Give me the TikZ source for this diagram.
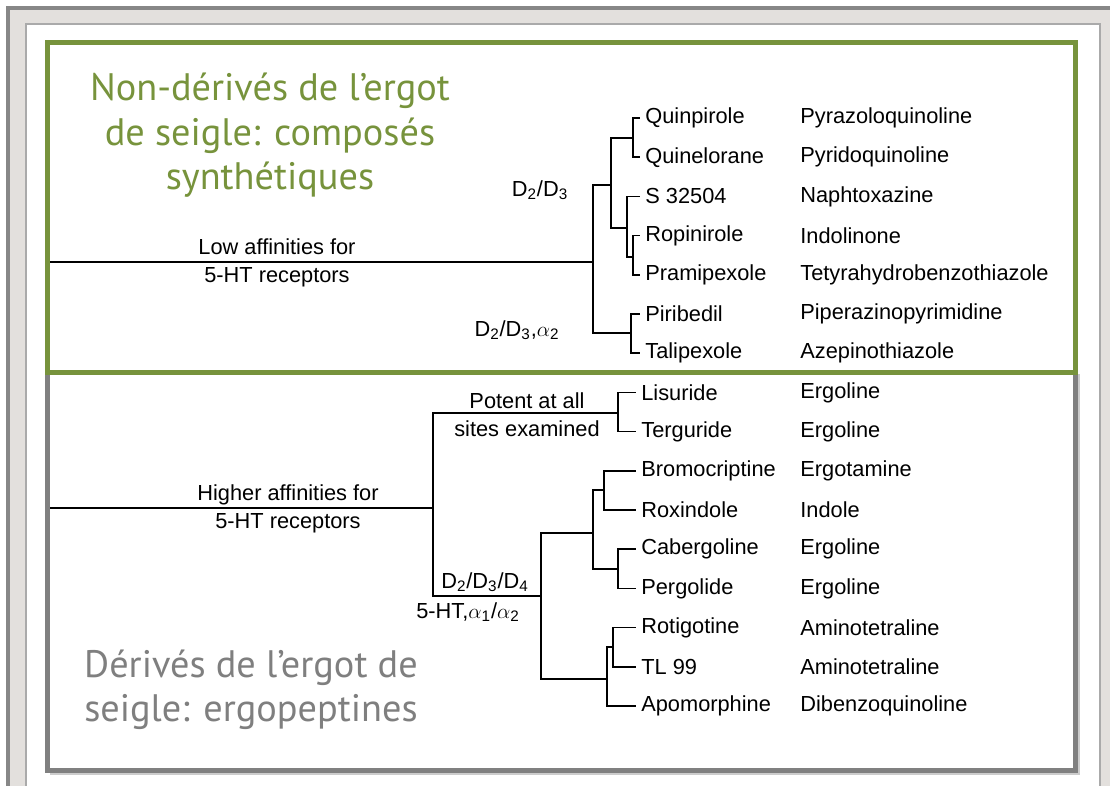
\documentclass[tikz,border=0pt]{standalone}
\usepackage{fontspec}
\setmainfont{Liberation Sans}
\newfontfamily\titlefont{PT Sans}
\usepackage{tikz}
\usetikzlibrary{positioning,calc}
\definecolor{ergotgreen}{RGB}{119,147,60}
\definecolor{boxgray}{RGB}{128,128,128}
\definecolor{titlegray}{RGB}{127,127,127}
\definecolor{framefill}{RGB}{227,224,221}
\definecolor{frameline}{RGB}{135,135,135}
\definecolor{panelline}{RGB}{170,170,170}

\begin{document}
\begin{tikzpicture}[
  x=0.02cm,y=-0.02cm,
  drug/.style={anchor=west,inner xsep=0.1cm,inner ysep=0pt,font=\fontsize{12.4}{15}\selectfont},
  family/.style={anchor=west,inner sep=0pt,font=\fontsize{12.4}{15}\selectfont},
  branch/.style={align=center,inner sep=0pt,font=\fontsize{12.4}{16}\selectfont},
  tree/.style={line width=1pt},
  title/.style={align=center,anchor=base,inner sep=0pt,font=\titlefont\fontsize{21.8}{25.6}\selectfont},
  frame/.style={line width=0.1cm}
]
\useasboundingbox (0,0) rectangle (1110,786);
% slide background
\fill[white] (0,0) rectangle (1110,786);
\fill[framefill] (8,8) rectangle (1110,786);
\draw[frameline,line width=2pt] (8,786) -- (8,8) -- (1110,8);
\fill[white] (26,24) rectangle (1100,786);
\draw[panelline,line width=1.5pt] (26,786) -- (26,24) -- (1100,24) -- (1100,786);

% drugs
\node[drug] (quinpirole) at (640,118.0) {Quinpirole};
\node[drug] (quinelorane) at (640,157.2) {Quinelorane};
\node[drug] (s32504) at (640,196.4) {S 32504};
\node[drug] (ropinirole) at (640,235.6) {Ropinirole};
\node[drug] (pramipexole) at (640,274.8) {Pramipexole};
\node[drug] (piribedil) at (640,314.0) {Piribedil};
\node[drug] (talipexole) at (640,353.2) {Talipexole};
\node[drug] (lisuride) at (636,392.4) {Lisuride};
\node[drug] (terguride) at (636,431.6) {Terguride};
\node[drug] (bromocriptine) at (636,470.8) {Bromocriptine};
\node[drug] (roxindole) at (636,510.0) {Roxindole};
\node[drug] (cabergoline) at (636,549.2) {Cabergoline};
\node[drug] (pergolide) at (636,588.4) {Pergolide};
\node[drug] (rotigotine) at (636,627.6) {Rotigotine};
\node[drug] (tl99) at (636,666.8) {TL 99};
\node[drug] (apomorphine) at (636,706.0) {Apomorphine};

% chemical families
\node[family] (quinpiroleF) at (800,118.0) {Pyrazoloquinoline};
\node[family] (quineloraneF) at (800,157.2) {Pyridoquinoline};
\node[family] (s32504F) at (800,196.4) {Naphtoxazine};
\node[family] (ropiniroleF) at (800,235.6) {Indolinone};
\node[family] (pramipexoleF) at (800,274.8) {Tetyrahydrobenzothiazole};
\node[family] (piribedilF) at (800,314.0) {Piperazinopyrimidine};
\node[family] (talipexoleF) at (800,353.2) {Azepinothiazole};
\node[family] (lisurideF) at (800,392.4) {Ergoline};
\node[family] (tergurideF) at (800,431.6) {Ergoline};
\node[family] (bromocriptineF) at (800,470.8) {Ergotamine};
\node[family] (roxindoleF) at (800,510.0) {Indole};
\node[family] (cabergolineF) at (800,549.2) {Ergoline};
\node[family] (pergolideF) at (800,588.4) {Ergoline};
\node[family] (rotigotineF) at (800,627.6) {Aminotetraline};
\node[family] (tl99F) at (800,666.8) {Aminotetraline};
\node[family] (apomorphineF) at (800,706.0) {Dibenzoquinoline};

% non-ergot tree
\coordinate (rootA) at (50,262);
\coordinate (jA) at (593,262);
\coordinate (jA1) at (611,185);
\coordinate (jQ) at (633,138);
\coordinate (jS) at (627,228);
\coordinate (jR) at (633,257);
\coordinate (jP) at (631,333);
\draw[tree] (rootA) -- (jA);
\draw[tree] (jA) |- (jA1);
\draw[tree] (jA) |- (jP);
\draw[tree] (jA1) |- (jQ);
\draw[tree] (jA1) |- (jS);
\draw[tree] (jQ) |- (quinpirole.west);
\draw[tree] (jQ) |- (quinelorane.west);
\draw[tree] (jS) |- (s32504.west);
\draw[tree] (jS) |- (jR);
\draw[tree] (jR) |- (ropinirole.west);
\draw[tree] (jR) |- (pramipexole.west);
\draw[tree] (jP) |- (piribedil.west);
\draw[tree] (jP) |- (talipexole.west);

% ergot tree
\coordinate (rootB) at (50,508);
\coordinate (jB) at (433,508);
\coordinate (jL) at (618,413);
\coordinate (jD) at (541,596);
\coordinate (jE) at (593,533);
\coordinate (jBr) at (604,490);
\coordinate (jC) at (618,569);
\coordinate (jF) at (607,679);
\coordinate (jT) at (613,647);
\draw[tree] (rootB) -- (jB);
\draw[tree] (jB) |- (jL);
\draw[tree] (jB) |- (jD);
\draw[tree] (jL) |- (lisuride.west);
\draw[tree] (jL) |- (terguride.west);
\draw[tree] (jD) |- (jE);
\draw[tree] (jD) |- (jF);
\draw[tree] (jE) |- (jBr);
\draw[tree] (jE) |- (jC);
\draw[tree] (jBr) |- (bromocriptine.west);
\draw[tree] (jBr) |- (roxindole.west);
\draw[tree] (jC) |- (cabergoline.west);
\draw[tree] (jC) |- (pergolide.west);
\draw[tree] (jF) |- (jT);
\draw[tree] (jF) |- (apomorphine.west);
\draw[tree] (jT) |- (rotigotine.west);
\draw[tree] (jT) |- (tl99.west);

% branch labels
\node[branch] (lowlbl) at (277,263) {Low affinities for\\5-HT receptors};
\node[branch] (d23) at (540,190) {D\textsubscript{2}/D\textsubscript{3}};
\node[branch] (d23a) at (517,330) {D\textsubscript{2}/D\textsubscript{3},$\alpha$\textsubscript{2}};
\node[branch] (potent) at (527,415) {Potent at all\\sites examined};
\node[branch] (higher) at (288,509) {Higher affinities for\\5-HT receptors};
\node[branch] (d234) at (485,582) {D\textsubscript{2}/D\textsubscript{3}/D\textsubscript{4}};
\node[branch] (ht) at (468,612) {5-HT,$\alpha$\textsubscript{1}/$\alpha$\textsubscript{2}};

% group boxes
\draw[frame,black!20] (1077,374.5) -- (1077,773) -- (49.5,773);
\draw[frame,boxgray] (47.5,372.5) rectangle (1075,771);
\draw[frame,ergotgreen] (47.5,42.5) rectangle (1075,372.5);

% group titles
\node[title,text=ergotgreen] (synth) at (270,190) {Non-dérivés de l’ergot\\de seigle: composés\\synthétiques};
\node[title,text=titlegray] (ergo) at (251,722) {Dérivés de l’ergot de\\seigle: ergopeptines};
\end{tikzpicture}
\end{document}
